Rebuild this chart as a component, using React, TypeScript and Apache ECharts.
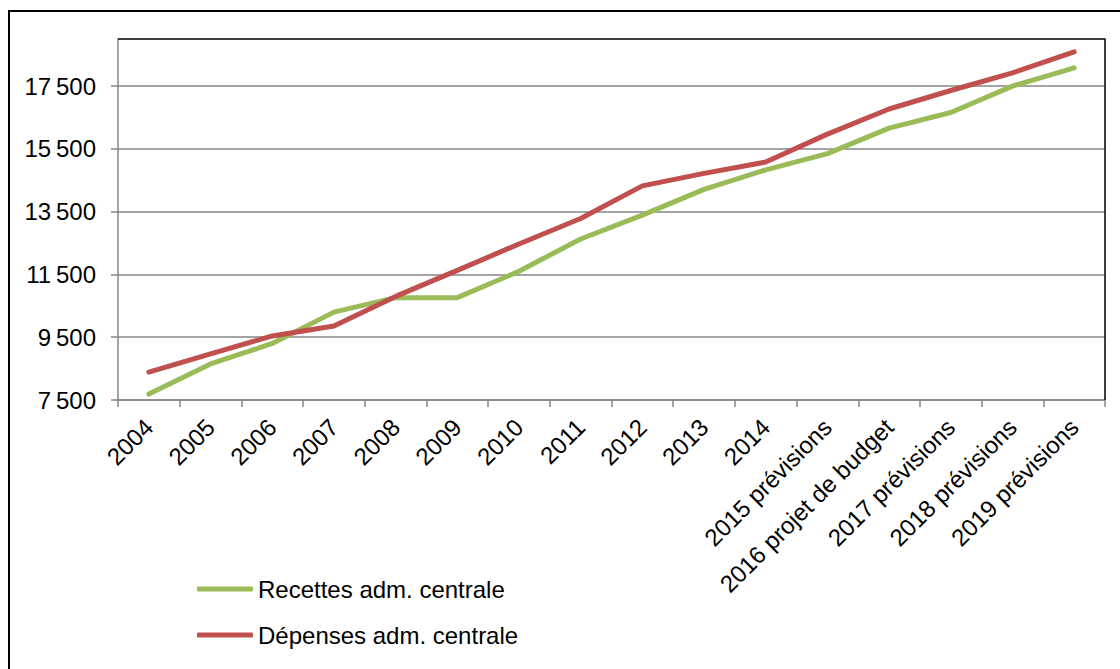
import React, { useEffect, useRef } from "react";
import * as echarts from "echarts";

const categories = [
  "2004", "2005", "2006", "2007", "2008", "2009", "2010", "2011", "2012",
  "2013", "2014", "2015 prévisions", "2016 projet de budget",
  "2017 prévisions", "2018 prévisions", "2019 prévisions",
];

const recettes = [
  7690, 8650, 9300, 10300, 10760, 10760, 11600, 12630, 13390,
  14210, 14830, 15350, 16160, 16660, 17500, 18080,
];

const depenses = [
  8390, 8970, 9540, 9860, 10800, 11630, 12470, 13280, 14320,
  14720, 15080, 15970, 16770, 17360, 17920, 18590,
];

const yTicks = [7500, 9500, 11500, 13500, 15500, 17500];
const yMin = 7500;
const yMax = 19000;
const yStep = 2000;

const seriesNames = ["Recettes adm. centrale", "Dépenses adm. centrale"];
const seriesColors = ["#9BBB59", "#C0504D"];

const FONT = "'Liberation Sans', Arial, sans-serif";

const fmt = (v: number) =>
  v >= 1000
    ? `${Math.floor(v / 1000)}\u2009${String(v % 1000).padStart(3, "0")}`
    : String(v);

export default function App() {
  const ref = useRef<HTMLDivElement>(null);

  useEffect(() => {
    if (!ref.current) return;
    const chart = echarts.init(ref.current, undefined, { renderer: "svg" });

    const gLeft = 118;
    const gTop = 39;
    const gRight = 15;
    const gBottom = 269;
    const W = 1120;
    const H = 669;

    chart.setOption({
      animation: false,
      backgroundColor: "#ffffff",
      textStyle: { fontFamily: FONT, color: "#000" },
      grid: {
        left: gLeft,
        top: gTop,
        right: gRight,
        bottom: gBottom,
        containLabel: false,
      },
      legend: {
        orient: "vertical",
        left: 192,
        top: 571,
        itemWidth: 56,
        itemHeight: 5,
        itemGap: 20,
        icon: "roundRect",
        textStyle: { fontFamily: FONT, fontSize: 24, color: "#000", lineHeight: 26 },
        data: seriesNames,
      },
      xAxis: {
        type: "category",
        data: categories,
        boundaryGap: true,
        axisLine: { lineStyle: { color: "#868686", width: 1.5 } },
        axisTick: { show: true, length: 7, lineStyle: { color: "#868686", width: 1.5 } },
        axisLabel: {
          interval: 0,
          rotate: 45,
          fontSize: 24,
          color: "#000",
          fontFamily: FONT,
          margin: 23,
        },
        splitLine: { show: false },
      },
      yAxis: {
        type: "value",
        min: yMin,
        max: yMax,
        interval: yStep,
        axisLine: { show: true, lineStyle: { color: "#868686", width: 1.5 } },
        axisTick: {
          show: true,
          length: 7,
          customValues: yTicks,
          lineStyle: { color: "#868686", width: 1.5 },
        },
        axisLabel: {
          customValues: yTicks,
          fontSize: 24,
          color: "#000",
          fontFamily: FONT,
          margin: 22,
          formatter: (v: number) => (yTicks.includes(v) ? fmt(v) : ""),
        },
        splitLine: { show: true, lineStyle: { color: "#868686", width: 1.5 } },
      },
      series: seriesNames.map((name, i) => ({
        name,
        type: "line",
        data: i === 0 ? recettes : depenses,
        symbol: "none",
        color: seriesColors[i],
        lineStyle: { width: 5, color: seriesColors[i], cap: "round", join: "round" },
        z: 3 + i,
      })),
      graphic: [
        {
          type: "rect",
          shape: { x: 9, y: 11, width: W, height: H },
          style: { fill: "none", stroke: "#000", lineWidth: 2 },
          silent: true,
          z: 100,
        },
        {
          type: "polyline",
          shape: {
            points: [
              [gLeft, gTop],
              [W - gRight, gTop],
              [W - gRight, H - gBottom],
            ],
          },
          style: { fill: "none", stroke: "#000", lineWidth: 1.5 },
          silent: true,
          z: 100,
        },
      ],
    });

    return () => chart.dispose();
  }, []);

  return (
    <div
      ref={ref}
      style={{ position: "fixed", left: 0, top: 0, width: 1120, height: 669 }}
    />
  );
}
